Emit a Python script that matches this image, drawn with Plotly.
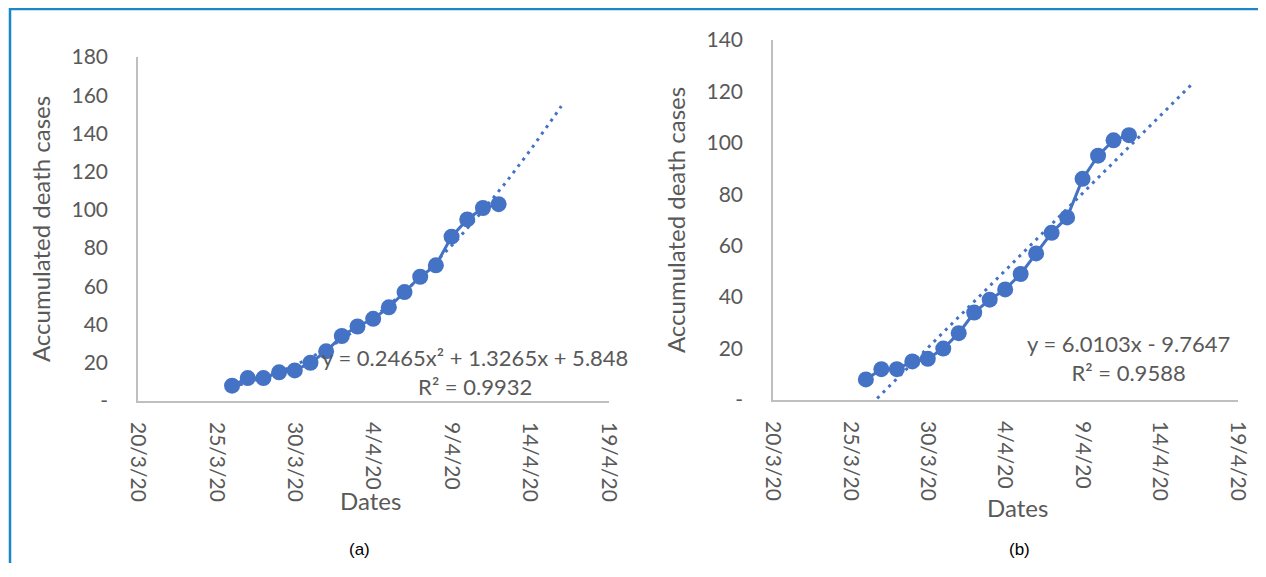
import numpy as np
import pandas as pd
import plotly.graph_objects as go
from plotly.subplots import make_subplots

# ---------------- data ----------------
dates = ["2020-03-26", "2020-03-27", "2020-03-28", "2020-03-29", "2020-03-30", "2020-03-31",
         "2020-04-01", "2020-04-02", "2020-04-03", "2020-04-04", "2020-04-05", "2020-04-06",
         "2020-04-07", "2020-04-08", "2020-04-09", "2020-04-10", "2020-04-11", "2020-04-12"]
deaths = [8, 12, 12, 15, 16, 20, 26, 34, 39, 43, 49, 57, 65, 71, 86, 95, 101, 103]

tick_dates = ["2020-03-20", "2020-03-25", "2020-03-30", "2020-04-04",
              "2020-04-09", "2020-04-14", "2020-04-19"]
tick_labels = ["20/3/20", "25/3/20", "30/3/20", "4/4/20", "9/4/20", "14/4/20", "19/4/20"]

y_ticks_a = [0, 20, 40, 60, 80, 100, 120, 140, 160, 180]
y_ticks_b = [0, 20, 40, 60, 80, 100, 120, 140]

poly_coef = [0.2465, 1.3265, 5.848]      # y = a x^2 + b x + c
lin_coef = [6.0103, -9.7647]             # y = m x + k
forecast_periods = 4

eq_a = "y = 0.2465x² + 1.3265x + 5.848<br>R² = 0.9932"
eq_b = "y = 6.0103x - 9.7647<br>R² = 0.9588"

# ---------------- geometry helpers ----------------
W, H = 1250, 555
OFF = 8  # default body margin of the page


def px(x):
    return (x - OFF) / W


def py(y):
    return 1 - (y - OFF) / H


BLUE = "#4472C4"
GRAY = "#595959"
AXIS = "#BFBFBF"
FONT = "Lato"

d0 = pd.Timestamp(dates[0])
n = len(deaths)
t_fine = np.linspace(1, n + forecast_periods, 300)
trend_dates = [d0 + pd.Timedelta(days=float(t - 1)) for t in t_fine]
poly_vals = np.polyval(poly_coef, t_fine)
lin_vals = np.polyval(lin_coef, t_fine)

fig = make_subplots(rows=1, cols=2)

for col, trend in ((1, poly_vals), (2, lin_vals)):
    fig.add_trace(go.Scatter(x=dates, y=deaths, mode="lines+markers",
                             line=dict(color=BLUE, width=3),
                             marker=dict(color=BLUE, size=16),
                             showlegend=False), row=1, col=col)
    fig.add_trace(go.Scatter(x=trend_dates, y=trend, mode="lines",
                             line=dict(color=BLUE, width=3, dash="3px,5px"),
                             showlegend=False), row=1, col=col)

x_end = pd.Timestamp(tick_dates[-1]) + pd.Timedelta(hours=1)
xcommon = dict(type="date", range=[tick_dates[0], x_end],
               tickmode="array", tickvals=tick_dates, ticktext=tick_labels,
               tickangle=90, showline=True, linecolor=AXIS, linewidth=1.5,
               showgrid=False, zeroline=False, ticks="", automargin=False,
               tickfont=dict(family=FONT, size=21, color=GRAY),
               ticklabelstandoff=15)
ycommon = dict(showline=True, linecolor=AXIS, linewidth=1.5, showgrid=False,
               zeroline=False, ticks="", tickmode="array", automargin=False,
               tickfont=dict(family=FONT, size=21, color=GRAY),
               ticklabelstandoff=24,
               title=dict(text="Accumulated death cases",
                          font=dict(family=FONT, size=24, color=GRAY), standoff=14))

fig.update_xaxes(**xcommon)
fig.update_yaxes(**ycommon)

fig.update_layout(
    xaxis=dict(domain=[px(138), px(609)]),
    xaxis2=dict(domain=[px(773), px(1238)]),
    yaxis=dict(domain=[py(401), py(57)], range=[0, 180],
               tickvals=y_ticks_a, ticktext=["-"] + [str(v) for v in y_ticks_a[1:]]),
    yaxis2=dict(domain=[py(400), py(40)], range=[0, 140],
                tickvals=y_ticks_b, ticktext=["-"] + [str(v) for v in y_ticks_b[1:]]),
)


def ann(text, x, y, font):
    return dict(text=text, x=px(x), y=py(y), xref="paper", yref="paper",
                xanchor="center", yanchor="middle", showarrow=False,
                align="center", font=font)


eq_font = dict(family=FONT, size=22, color=GRAY)
title_font = dict(family=FONT, size=24, color=GRAY)
cap_font = dict(family="Liberation Sans", size=17, color="black")

annotations = [
    ann(eq_a, 475, 372, eq_font),
    ann(eq_b, 1128, 358, eq_font),
    ann("Dates", 370, 500, title_font),
    ann("Dates", 1017, 507, title_font),
    ann("(a)", 359, 549, cap_font),
    ann("(b)", 1019, 549, cap_font),
]

FRAME = "#1A87C6"
shapes = [
    dict(type="line", xref="paper", yref="paper", x0=px(9), x1=1, y0=py(9), y1=py(9),
         line=dict(color=FRAME, width=2.5)),
    dict(type="line", xref="paper", yref="paper", x0=px(10), x1=px(10), y0=py(8), y1=0,
         line=dict(color=FRAME, width=2.5)),
]

fig.update_layout(width=W, height=H, margin=dict(l=0, r=0, t=0, b=0),
                  paper_bgcolor="white", plot_bgcolor="white", showlegend=False,
                  annotations=annotations, shapes=shapes)

fig.write_html("out.html")
